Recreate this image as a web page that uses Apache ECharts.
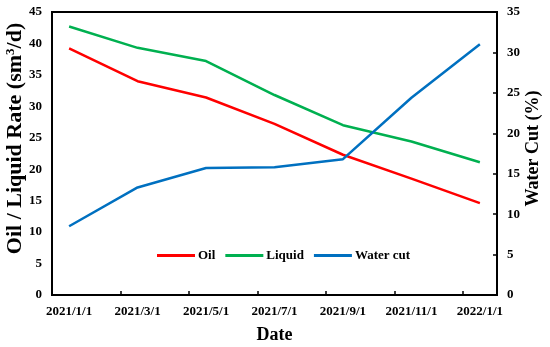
<!DOCTYPE html>
<html>
<head>
<meta charset="utf-8">
<script src="https://cdn.jsdelivr.net/npm/echarts@6/dist/echarts.min.js"></script>
<style>html,body{margin:0;padding:0;background:#fff}#c{width:550px;height:347px}</style>
</head>
<body>
<div id="c"></div>
<script>
const months = ['2021/1/1','2021/2/1','2021/3/1','2021/4/1','2021/5/1','2021/6/1','2021/7/1','2021/8/1','2021/9/1','2021/10/1','2021/11/1','2021/12/1','2022/1/1'];
const oil    = [39.2, null, 34.0, null, 31.4, null, 27.2, null, 22.3, null, 18.5, null, 14.6];
const liquid = [42.7, null, 39.3, null, 37.2, null, 31.8, null, 27.0, null, 24.4, null, 21.1];
const waterCut = [8.5, null, 13.3, null, 15.7, null, 15.8, null, 16.8, null, 24.4, null, 31.0];
const leftTicks = {min: 0, max: 45, interval: 5};
const rightTicks = {min: 0, max: 35, interval: 5};

const font = '"Liberation Serif", "Times New Roman", serif';
const chart = echarts.init(document.getElementById('c'), null, {renderer: 'canvas'});
chart.setOption({
  animation: false,
  textStyle: {fontFamily: font},
  grid: {left: 52, right: 53, top: 12, bottom: 52, containLabel: false, outerBoundsMode: 'none', show: true, borderColor: '#000', borderWidth: 2, backgroundColor: 'transparent'},
  legend: {
    data: ['Oil', 'Liquid', 'Water cut'],
    left: 152, top: 244,
    itemWidth: 38, itemHeight: 3, itemGap: 10,
    textStyle: {fontFamily: font, fontWeight: 'bold', fontSize: 13, color: '#000', padding: [0, 0, 0, -2]},
    icon: 'rect'
  },
  xAxis: {
    type: 'category', data: months, boundaryGap: true,
    axisLine: {lineStyle: {color: '#000', width: 2}},
    axisTick: {show: true, inside: true, length: 4, interval: 1, alignWithLabel: false, lineStyle: {color: '#000', width: 1.5}},
    axisLabel: {interval: 1, color: '#000', fontFamily: font, fontWeight: 'bold', fontSize: 13, margin: 10},
    name: 'Date', nameLocation: 'middle', nameGap: 31, nameMoveOverlap: false,
    nameTextStyle: {fontFamily: font, fontWeight: 'bold', fontSize: 18, color: '#000'}
  },
  yAxis: [{
    type: 'value', min: leftTicks.min, max: leftTicks.max, interval: leftTicks.interval,
    splitLine: {show: false},
    axisLine: {show: true, lineStyle: {color: '#000', width: 2}},
    axisTick: {show: false},
    axisLabel: {color: '#000', fontFamily: font, fontWeight: 'bold', fontSize: 13, margin: 10},
    name: 'Oil / Liquid Rate (sm{sup|3}/d)', nameLocation: 'middle', nameGap: 26, nameMoveOverlap: false,
    nameTextStyle: {fontFamily: font, fontWeight: 'bold', fontSize: 22, color: '#000', padding: [0, 0, 0, 30],
      rich: {sup: {fontSize: 13, fontWeight: 'bold', fontFamily: font, verticalAlign: 'top', padding: [0, 0, 9, 0], color: '#000'}}}
  }, {
    type: 'value', min: rightTicks.min, max: rightTicks.max, interval: rightTicks.interval,
    position: 'right',
    splitLine: {show: false},
    axisLine: {show: true, lineStyle: {color: '#000', width: 2}},
    axisTick: {show: true, inside: true, length: 4, lineStyle: {color: '#000', width: 1.5}},
    axisLabel: {color: '#000', fontFamily: font, fontWeight: 'bold', fontSize: 13, margin: 10},
    name: 'Water Cut (%)', nameLocation: 'middle', nameGap: 27, nameRotate: 90, nameMoveOverlap: false,
    nameTextStyle: {fontFamily: font, fontWeight: 'bold', fontSize: 18, color: '#000', padding: [0, 0, 0, 10]}
  }],
  series: [
    {name: 'Oil', type: 'line', data: oil, connectNulls: true, symbol: 'none', lineStyle: {color: '#FF0000', width: 2.5}, itemStyle: {color: '#FF0000'}},
    {name: 'Liquid', type: 'line', data: liquid, connectNulls: true, symbol: 'none', lineStyle: {color: '#00B050', width: 2.5}, itemStyle: {color: '#00B050'}},
    {name: 'Water cut', type: 'line', yAxisIndex: 1, data: waterCut, connectNulls: true, symbol: 'none', lineStyle: {color: '#0070C0', width: 2.5}, itemStyle: {color: '#0070C0'}}
  ]
});
</script>
</body>
</html>
